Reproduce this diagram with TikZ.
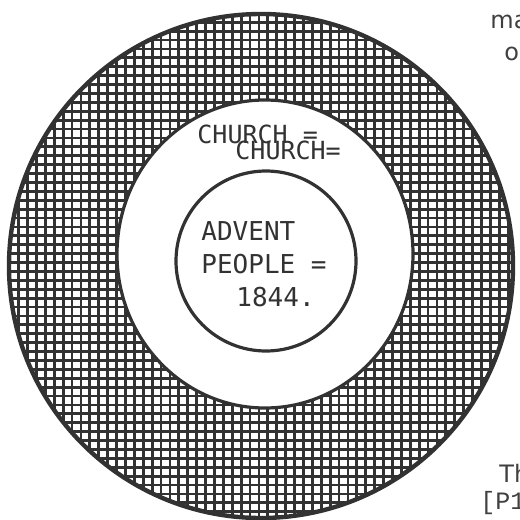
\documentclass[tikz,border=0pt]{standalone}
\usepackage{fontspec}
\newfontfamily\typewriter{DejaVu Sans Mono}
\newfontfamily\pagesans{DejaVu Sans}
\newfontfamily\pagemono{Liberation Mono}
\usepackage{xcolor}
\usetikzlibrary{math}
\definecolor{inkgray}{RGB}{50,50,50}

\tikzset{
  typed/.style={font=\typewriter\fontsize{12.5}{15}\selectfont, text=inkgray, inner sep=0pt, anchor=base west},
  pagetext/.style={font=\pagesans\fontsize{12}{14}\selectfont, text=black!75, inner sep=0pt, anchor=base west},
  pageref/.style={font=\pagemono\fontsize{12.5}{14}\selectfont, text=black!75, inner sep=0pt, anchor=base west}
}

\begin{document}
\begin{tikzpicture}[x=0.5pt,y=-0.5pt]
\tikzmath{
\cx=261; \cy=266; \R=252;
\gap=8.9;
}
\useasboundingbox (0,0) rectangle (520,520);

% cross-hatched ring
\begin{scope}[even odd rule]
\clip (\cx,\cy) circle (\R) (265,254) ellipse (148 and 154);
\foreach \i in {0,...,59}{
  \draw[inkgray, line width=1.4pt] (0.8+\i*\gap,0) -- (0.8+\i*\gap,520);
  \draw[inkgray, line width=1.4pt] (0,4.4+\i*\gap) -- (520,4.4+\i*\gap);
}
\end{scope}

\draw[inkgray, line width=2.2pt] (\cx,\cy) circle (\R);
\draw[inkgray, line width=1.6pt] (265,254) ellipse (148 and 154);
\draw[inkgray, line width=1.6pt] (266,261) circle (90);

\node[typed] (churchA) at (197,143) {CHURCH =};
\node[typed] (churchB) at (235,159) {CHURCH=};

\node[typed, font=\typewriter\fontsize{13}{15}\selectfont] (advent) at (201,240) {ADVENT};
\node[typed, font=\typewriter\fontsize{13}{15}\selectfont] (people) at (201,273) {PEOPLE =};
\node[typed, font=\typewriter\fontsize{13}{15}\selectfont] (year) at (236,306) {1844.};

% text cut off at the page edge
\node[pagetext] (ma) at (490,28) {ma};
\node[pagetext] (o) at (504,60) {o};
\node[pagetext] (th) at (499,482) {Th};
\node[pageref] (pone) at (480,509) {[P1};
\end{tikzpicture}
\end{document}
